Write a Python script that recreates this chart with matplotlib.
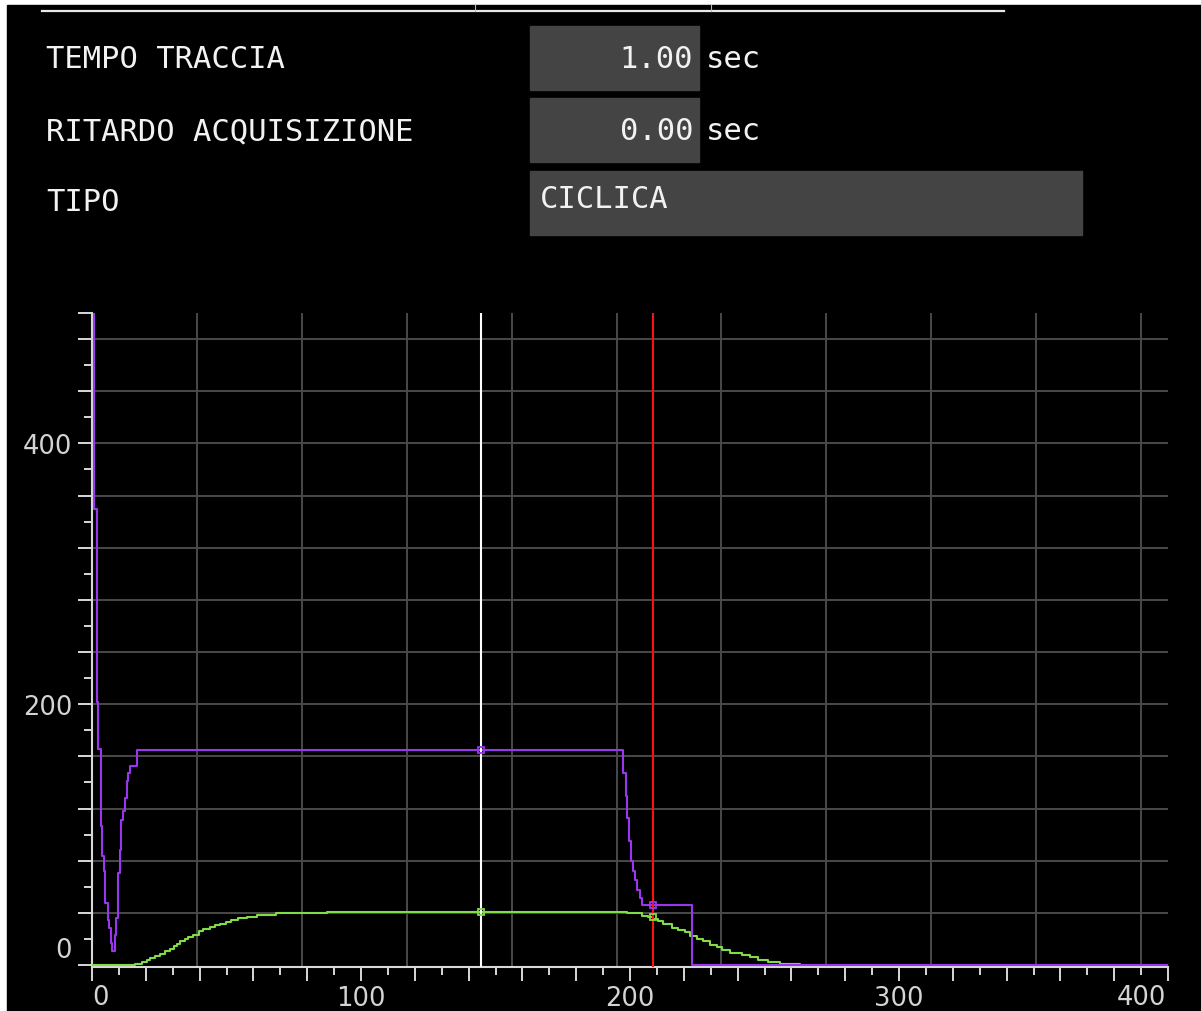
import numpy as np
import matplotlib
matplotlib.use("Agg")
import matplotlib.pyplot as plt
from matplotlib.patches import Rectangle
from matplotlib.ticker import MultipleLocator, FixedLocator, FuncFormatter

# settings panel
field_labels = ["TEMPO TRACCIA", "RITARDO ACQUISIZIONE", "TIPO"]
field_values = ["1.00", "0.00", "CICLICA"]
field_units = ["sec", "sec", ""]

# purple trace (step values, held until next x)
purple_x = [0, 0.9, 1.7, 2.3, 3.2, 3.8, 4.5, 4.9, 5.8, 6.4, 7.0, 7.5, 8.4, 8.9,
            9.6, 10.4, 10.9, 11.6, 12.3, 12.9, 13.5, 14.1, 16.6, 197.5, 198.4,
            199.0, 199.6, 200.4, 201.2, 201.9, 202.7, 203.7, 204.6, 223.2, 400]
purple_y = [520, 350, 201.5, 166, 106.5, 83.5, 72, 47.5, 34.5, 28.4, 16.9, 10.7,
            23, 36, 70.5, 88, 111, 118, 128, 141, 147, 153, 165, 147, 129.5,
            112.6, 95, 79.7, 72, 65, 57.5, 51.3, 46, 0, 0]

# green trace
green_x = [0, 16.0, 18.5, 20.3, 21.6, 23.4, 25.3, 27.1, 29.0, 30.5, 31.6, 32.7,
           34.6, 35.8, 37.4, 39.9, 41.4, 43.9, 45.7, 47.6, 49.8, 51.6, 54.4,
           57.5, 61.2, 68.4, 87.2,
           199.0, 204.3, 206.8, 208.7, 210.5, 212.4, 215.5, 218.0, 220.5, 222.4,
           224.8, 227.3, 229.7, 232.2, 234.1, 237.2, 241.5, 244.6, 247.7, 251.4,
           255.8, 263.2]
green_y = [0, 0.8, 2.0, 3.6, 5.1, 6.9, 8.7, 10.5, 12.3, 14.5, 16.2, 18.2,
           19.9, 21.5, 23.3, 25.8, 27.6, 28.9, 30.4, 31.7, 33.0, 34.2, 35.8,
           36.8, 38.3, 39.6, 41.0,
           39.6, 37.8, 36.5, 35.2, 33.5, 31.4, 28.4, 26.8, 25.1, 22.0,
           20.2, 18.2, 15.6, 13.6, 11.7, 9.2, 7.4, 5.9, 4.1, 2.3,
           0.8, 0]

cursor_white = 144.6
cursor_red = 208.6

PURPLE = "#9a35f0"
GREEN = "#82dc46"
GRID = "#4a4a4a"
AXIS = "#d8d8d8"
LABEL = "#d4d4d4"


def step_value(xs, ys, x):
    i = np.searchsorted(xs, x, side="right") - 1
    return ys[max(i, 0)]


fig = plt.figure(figsize=(12.01, 10.12), dpi=100, facecolor="white")

# background / top panel in pixel coordinates
bg = fig.add_axes([0, 0, 1, 1])
bg.set_xlim(0, 1201)
bg.set_ylim(1012, 0)
bg.axis("off")
bg.add_patch(Rectangle((7, 6), 1194, 1006, color="black", zorder=0))
bg.plot([42, 1004], [12, 12], color="#e8e8e8", lw=1.6, zorder=1)
for tx in (475, 711):
    bg.plot([tx, tx], [6, 12], color="#bbbbbb", lw=0.8, zorder=1)

box_rows = [(27, 91, 699), (99, 163, 699), (172, 236, 1082)]
baselines = [68, 140, 211]
mono = "DejaVu Sans Mono"
for i, (lab, val, unit) in enumerate(zip(field_labels, field_values, field_units)):
    y0, y1, x1 = box_rows[i]
    bg.add_patch(Rectangle((530, y0), x1 - 530, y1 - y0, color="#444444", zorder=1))
    bg.text(46, baselines[i], lab, family=mono, fontsize=22, color="#f2f2f2",
            va="baseline", ha="left", zorder=2)
    if unit:
        bg.text(693, baselines[i], val, family=mono, fontsize=22, color="#f2f2f2",
                va="baseline", ha="right", zorder=2)
        bg.text(706, baselines[i], unit, family=mono, fontsize=22, color="#f2f2f2",
                va="baseline", ha="left", zorder=2)
    else:
        bg.text(540, baselines[i] - 3, val, family=mono, fontsize=22, color="#f2f2f2",
                va="baseline", ha="left", zorder=2)

# chart
ax = fig.add_axes([92 / 1201, (1012 - 968) / 1012, (1168 - 92) / 1201, (968 - 314) / 1012])
ax.set_facecolor("black")
ax.set_xlim(0, 400)
ax.set_ylim(-1.5, 500)

for gx in np.arange(39, 391, 39):
    ax.axvline(gx, color=GRID, lw=1.4, zorder=1)
for gy in np.arange(40, 481, 40):
    ax.axhline(gy, color=GRID, lw=1.4, zorder=1)

ax.step(green_x, green_y, where="post", color=GREEN, lw=1.5, zorder=3)
ax.step(purple_x, purple_y, where="post", color=PURPLE, lw=1.5, zorder=4)

ax.axvline(cursor_white, color="white", lw=1.5, zorder=5)
ax.axvline(cursor_red, color="#ff1010", lw=1.5, zorder=5)

for cx in (cursor_white, cursor_red):
    ax.plot(cx, step_value(purple_x, purple_y, cx), "s", ms=5, mfc="none",
            mec=PURPLE, mew=1.3, zorder=6)
    ax.plot(cx, step_value(green_x, green_y, cx), "s", ms=5, mfc="none",
            mec=GREEN, mew=1.3, zorder=6)

for side in ("top", "right"):
    ax.spines[side].set_visible(False)
for side in ("left", "bottom"):
    ax.spines[side].set_color(AXIS)
    ax.spines[side].set_linewidth(1.5)
    ax.spines[side].set_zorder(2)

ax.xaxis.set_major_locator(MultipleLocator(20))
ax.xaxis.set_minor_locator(MultipleLocator(10))
ax.xaxis.set_major_formatter(FuncFormatter(lambda v, p: f"{v:.0f}" if v in (100, 200, 300) else ""))
ax.yaxis.set_major_locator(FixedLocator(list(range(0, 481, 40)) + [500]))
ax.yaxis.set_minor_locator(MultipleLocator(20))
ax.yaxis.set_major_formatter(FuncFormatter(lambda v, p: f"{v:.0f}" if v in (200, 400) else ""))

ax.tick_params(which="major", length=10, width=1.4, color=AXIS, labelcolor=LABEL,
               labelsize=18.5, pad=3)
ax.tick_params(which="minor", length=6, width=1.4, color=AXIS)
ax.tick_params(axis="y", which="major", pad=4)

# end labels are pushed inside the axis range
ax.annotate("0", xy=(0, 0), xycoords=("axes fraction", "data"), xytext=(-20, 2),
            textcoords="offset pixels", ha="right", va="bottom", fontsize=18.5,
            color=LABEL, annotation_clip=False)
ax.annotate("0", xy=(0, 0), xycoords=("data", "axes fraction"), xytext=(0, -17),
            textcoords="offset pixels", ha="left", va="top", fontsize=18.5,
            color=LABEL, annotation_clip=False)
ax.annotate("400", xy=(400, 0), xycoords=("data", "axes fraction"), xytext=(-2, -17),
            textcoords="offset pixels", ha="right", va="top", fontsize=18.5,
            color=LABEL, annotation_clip=False)

fig.savefig("out.png", dpi=100, facecolor="white")
